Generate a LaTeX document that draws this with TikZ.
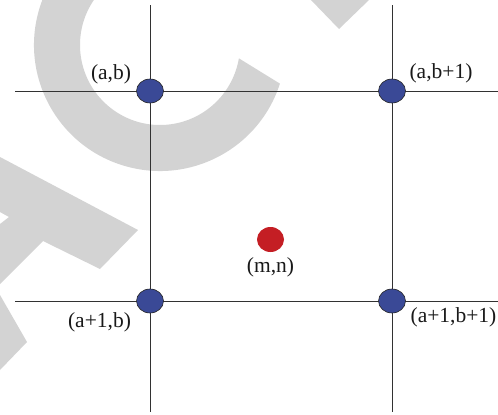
\documentclass[tikz,border=0pt]{standalone}
\usepackage{fontspec}
\setmainfont{Liberation Serif}
\usetikzlibrary{backgrounds,shapes.geometric}
\definecolor{wm}{RGB}{211,211,211}
\definecolor{ptblue}{RGB}{58,73,150}
\definecolor{ptred}{RGB}{196,30,36}
\definecolor{gridc}{RGB}{50,50,50}
\begin{document}
\begin{tikzpicture}[x=1pt,y=-1pt,
  gridpt/.style={shape=ellipse, minimum width=27pt, minimum height=24pt, inner sep=0pt,
                 fill=ptblue, draw=black!85, line width=0.6pt},
  redpt/.style={shape=ellipse, minimum width=27pt, minimum height=25pt, inner sep=0pt,
                 fill=ptred},
  lbl/.style={font=\fontsize{21.5}{23}\selectfont, inner sep=0pt, text=black!90},
  gridline/.style={draw=gridc, line width=1pt}]
\useasboundingbox (0,0) rectangle (498,415);
% points
\node[gridpt] (ab)   at (150,91) {};
\node[gridpt] (ab1)  at (392,91) {};
\node[gridpt] (a1b)  at (150,301) {};
\node[gridpt] (a1b1) at (392,301) {};
\node[redpt]  (mn)   at (270.5,239.5) {};
% labels
\node[lbl] (lab)   at (111,74) {(a,b)};
\node[lbl] (lab1)  at (441,73) {(a,b+1)};
\node[lbl] (lmn)   at (270.5,267.5) {(m,n)};
\node[lbl] (la1b)  at (99.5,322.5) {(a+1,b)};
\node[lbl] (la1b1) at (453.5,317.5) {(a+1,b+1)};
% line ends
\coordinate (vt1) at (150,5);
\coordinate (vb1) at (150,412);
\coordinate (vt2) at (392,5);
\coordinate (vb2) at (392,412);
\coordinate (hl1) at (15,91);
\coordinate (hr1) at (498,91);
\coordinate (hl2) at (15,301);
\coordinate (hr2) at (498,301);
\begin{pgfonlayer}{background}
  \begin{scope}
    \clip (0,0) rectangle (498,415);
    \fill[wm] (0,157) -- (138,230) -- (100,269) -- (43,241) -- (0,284)
              -- (0,224) -- (9,217) -- (0,212) -- cycle;
    \fill[wm] (0,295) -- (27,342) -- (0,370) -- cycle;
    \fill[wm] (310,-1) -- (370,-1) -- (339,29) -- cycle;
    \fill[wm] ([shift={(160,45)}]17.85:126) arc[start angle=17.85, end angle=260, radius=126]
              -- ([shift={(160,45)}]260:80) arc[start angle=260, end angle=9.6, radius=80] -- cycle;
  \end{scope}
  \draw[gridline] (vt1) -- (vb1);
  \draw[gridline] (vt2) -- (vb2);
  \draw[gridline] (hl1) -- (hr1);
  \draw[gridline] (hl2) -- (hr2);
\end{pgfonlayer}
\end{tikzpicture}
\end{document}
